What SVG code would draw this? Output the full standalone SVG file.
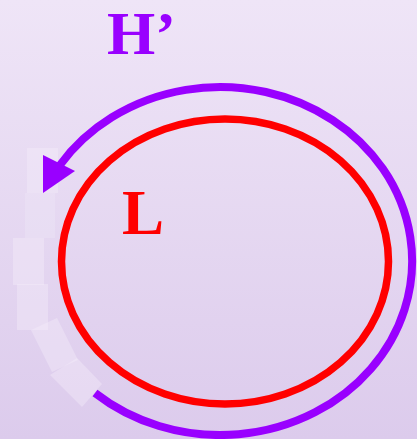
<svg xmlns="http://www.w3.org/2000/svg" width="417" height="439" viewBox="0 0 417 439">
  <defs>
    <linearGradient id="bg" x1="0" y1="0" x2="0" y2="1">
      <stop offset="0" stop-color="#efe5f7"/>
      <stop offset="1" stop-color="#dccbec"/>
    </linearGradient>
    <style>
      .ghost { fill: #f4eefa; opacity: 0.4; }
      .lbl { font-family: "Liberation Serif", "Times New Roman", serif; font-weight: bold; }
    </style>
  </defs>
  <rect x="0" y="0" width="417" height="439" fill="url(#bg)"/>

  <g id="ghosts">
    <rect class="ghost" x="27" y="148" width="31" height="45"/>
    <rect class="ghost" x="25" y="193" width="30" height="45" style="opacity:0.25"/>
    <rect class="ghost" x="13" y="238" width="31" height="47"/>
    <rect class="ghost" x="17" y="284" width="31" height="46"/>
    <polygon class="ghost" points="31,330 57,318 78,360 52,372"/>
    <polygon class="ghost" points="50,375 77,358 102,384 82,407"/>
  </g>

  <g id="L-loop">
    <ellipse cx="225" cy="261.5" rx="163.5" ry="142.5" fill="none" stroke="#ff0000" stroke-width="7.5"/>
    <text class="lbl" x="122" y="234" font-size="63" fill="#ff0000">L</text>
  </g>

  <g id="connectors">
    <path d="M 95 393 A 192 174 0 1 0 60 165" fill="none" stroke="#9900ff" stroke-width="8"/>
    <polygon points="43,155 75,171 43,193" fill="#9900ff"/>
  </g>

  <g id="H-label">
    <text class="lbl" x="107" y="54" font-size="62" fill="#9900ff">H’</text>
  </g>
</svg>
